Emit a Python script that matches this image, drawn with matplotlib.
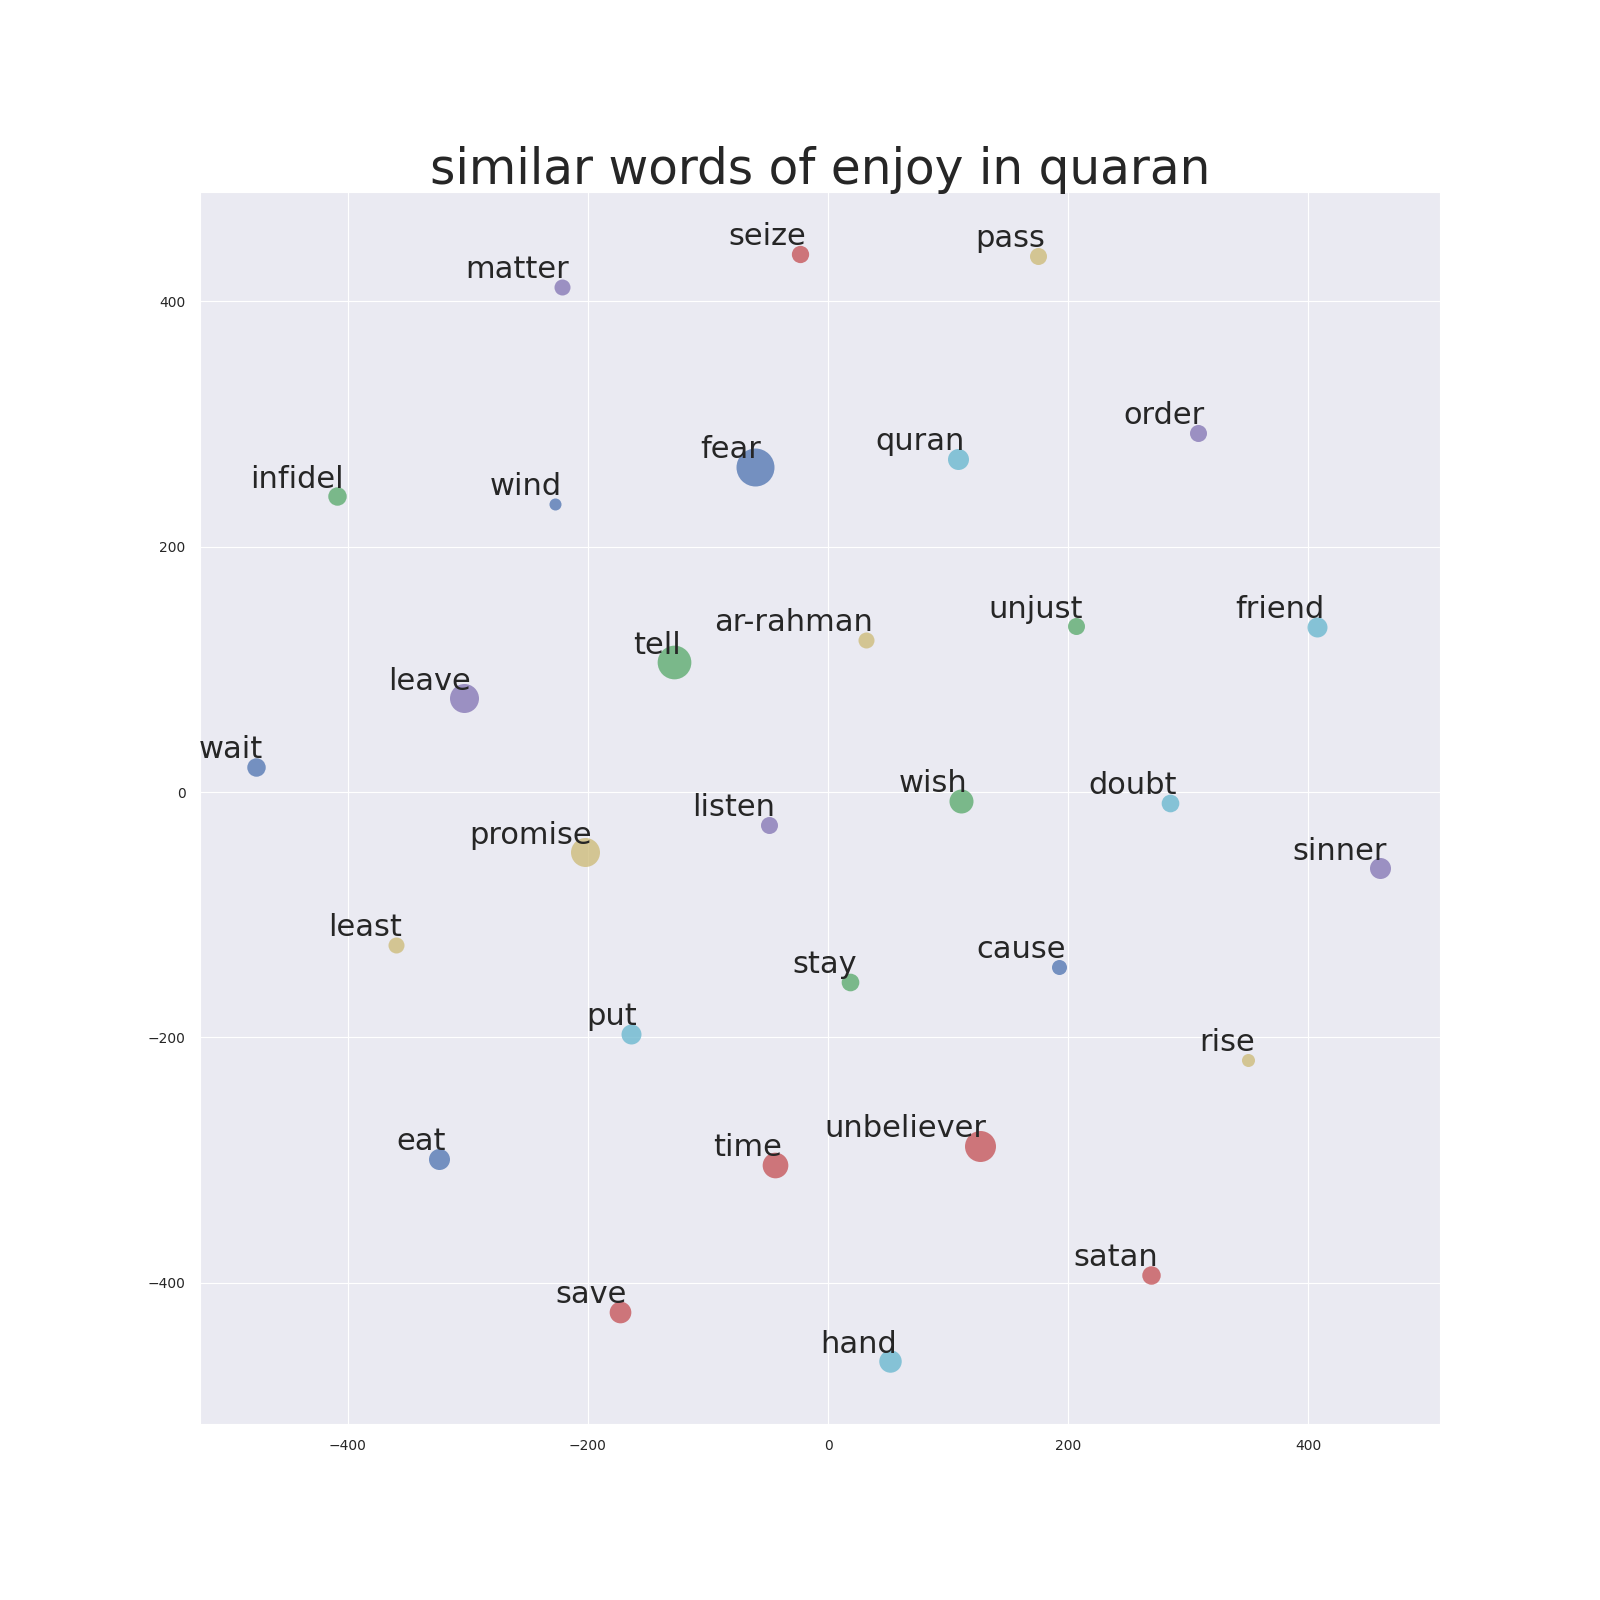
import matplotlib
matplotlib.use('Agg')
import matplotlib.pyplot as plt
import seaborn as sns

# words grouped so the colour cycle (blue, green, red, purple, yellow, cyan) lines up
words = ['fear', 'tell', 'unbeliever', 'leave', 'promise', 'hand',
         'wait', 'wish', 'time', 'sinner', 'pass', 'quran',
         'eat', 'infidel', 'save', 'order', 'ar-rahman', 'put',
         'cause', 'stay', 'satan', 'listen', 'least', 'friend',
         'wind', 'unjust', 'seize', 'matter', 'rise', 'doubt']
x_vals = [-61.2, -128.4, 126.2, -303.3, -202.7, 51.5,
          -476.6, 110.6, -44.5, 459.5, 174.8, 108.0,
          -324.1, -409.0, -173.6, 308.0, 31.9, -164.5,
          192.4, 18.6, 269.1, -49.5, -360.2, 407.3,
          -227.4, 206.3, -23.7, -221.7, 349.8, 284.7]
y_vals = [265.0, 105.7, -288.5, 76.4, -49.2, -463.9,
          20.3, -7.1, -303.9, -62.3, 436.7, 271.4,
          -299.0, 241.0, -423.9, 292.7, 123.8, -197.0,
          -142.3, -154.8, -393.8, -26.6, -124.3, 134.4,
          234.6, 135.0, 438.4, 411.6, -218.4, -8.7]
sizes = [748, 589, 498, 436, 436, 262,
         177, 299, 342, 229, 150, 229,
         229, 177, 244, 150, 133, 207,
         117, 162, 177, 150, 133, 207,
         75, 150, 155, 133, 88, 162]

old_deep = ['#4C72B0', '#55A868', '#C44E52', '#8172B2', '#CCB974', '#64B5CD']

sns.set_style('darkgrid')
plt.rcParams['axes.prop_cycle'] = matplotlib.cycler(color=old_deep)
plt.rcParams['font.family'] = ['DejaVu Sans']

fig = plt.figure(figsize=(16, 16), dpi=100)
ax = plt.gca()

# one scatter call per word, each takes the next colour of the cycle
for i, w in enumerate(words):
    ax.scatter(x_vals[i], y_vals[i], s=sizes[i], alpha=0.75, linewidths=0)
    ax.annotate(w, xy=(x_vals[i], y_vals[i]), xytext=(5, 2),
                textcoords='offset points', ha='right', va='bottom',
                fontsize=22, color='.15')

ax.set_xlim(-523, 509.5)
ax.set_ylim(-515, 489)
ax.tick_params(labelsize=10, pad=7, colors='.15')
plt.title('similar words of enjoy in quaran', fontsize=35, color='.15')

plt.savefig('out.png', dpi=100)
